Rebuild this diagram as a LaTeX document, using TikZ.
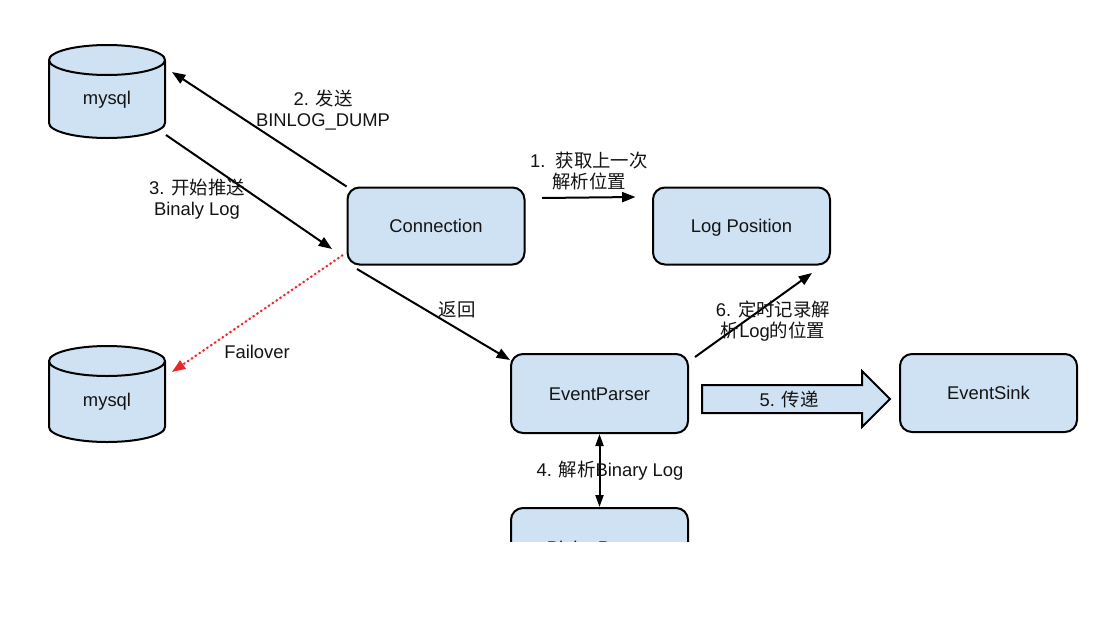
\documentclass[tikz,border=0pt]{standalone}
\usepackage{fontspec}
\setmainfont{Liberation Sans}
\newfontfamily\cjk{Noto Sans CJK SC}
\usetikzlibrary{arrows.meta,calc}
\definecolor{boxblue}{HTML}{CFE2F3}
\definecolor{failred}{HTML}{E8262B}
\definecolor{inkc}{HTML}{141414}
\begin{document}
\begin{tikzpicture}[x=0.75pt,y=-0.75pt,
  txt/.style={font=\fontsize{13.8}{16}\selectfont, text=inkc},
  box/.style={txt, draw=black, line width=1.5pt, fill=boxblue, rounded corners=9pt,
    minimum width=132.75pt, minimum height=58.5pt, inner sep=0pt,
    text height=9.9pt, text depth=0pt},
  dbshape/.style={draw=black, line width=1.5pt, fill=boxblue},
  dbnode/.style={txt, inner sep=0pt},
  lbl/.style={txt, align=center, inner sep=0pt},
  tip/.style={Triangle[length=10pt,width=7.5pt]},
  arr/.style={-{Triangle[length=10pt,width=7.5pt]}, line width=1.5pt, draw=black},
  dblarr/.style={{Triangle[length=9pt,width=6pt]}-{Triangle[length=9pt,width=6pt]}, line width=1.5pt, draw=black},
  failarr/.style={-{Triangle[length=10pt,width=7.5pt]}, line width=1.5pt, draw=failred, dotted, fill=failred}
]
\fill[white] (0,0) rectangle (1113,639);
\useasboundingbox (0,0) rectangle (1113,639);

% databases
\filldraw[dbshape] (49,60) -- (49,123) arc[start angle=180,end angle=0,x radius=58,y radius=15]
  -- (165,60) arc[start angle=0,end angle=-180,x radius=58,y radius=15] -- cycle;
\draw[line width=1.5pt] (49,60) arc[start angle=180,end angle=0,x radius=58,y radius=15];
\node[dbnode] (db1) at (107,100) {mysql};

\filldraw[dbshape] (49,361) -- (49,427) arc[start angle=180,end angle=0,x radius=58,y radius=15]
  -- (165,361) arc[start angle=0,end angle=-180,x radius=58,y radius=15] -- cycle;
\draw[line width=1.5pt] (49,361) arc[start angle=180,end angle=0,x radius=58,y radius=15];
\node[dbnode] (db2) at (107,402) {mysql};

% boxes
\node[box, minimum height=57.75pt] (conn) at (436,226) {Connection};
\node[box, minimum height=57.75pt] (logpos) at (741.5,226) {Log Position};
\node[box, minimum height=59.25pt] (ep) at (599.5,393.5) {EventParser};
\node[box] (sink) at (988.5,393) {EventSink};
\begin{scope}
  \clip (0,0) rectangle (1113,541);
  \node[box, minimum height=59.25pt] (bp) at (599.5,547.5) {BinlogParser};
\end{scope}

% fat arrow
\filldraw[draw=black, line width=1.5pt, fill=boxblue]
  (702,385) -- (862,385) -- (862,371) -- (890,399) -- (862,427) -- (862,413) -- (702,413) -- cycle;
\node[lbl] (l5) at (789,399) {5. {\cjk 传递}};

% connectors
\draw[arr] (conn.north west) -- ($(db1)+(65,-28)$);
\draw[arr] ($(db1)+(59,35)$) -- ($(conn.south west)+(-14.5,-16.5)$);
\draw[failarr] ($(conn.south west)+(-3.5,-10.5)$) -- ($(db2)+(65,-30)$);
\draw[arr] ($(conn.south west)+(10.5,3.5)$) -- ($(ep.north west)+(0,7)$);
\draw[arr] ($(conn.east)+(16.5,-28)$) -- ($(logpos.west)+(-16.5,-29)$);
\draw[arr] ($(ep.north east)+(6,4)$) -- ($(logpos.south east)+(-19,7.5)$);
\draw[dblarr] (ep.south) -- (bp.north);

% labels
\node[lbl] (l2) at (323,110) {2. {\cjk 发送}\\BINLOG\_DUMP};
\node[lbl] (l3) at (197,199.5) {3. {\cjk 开始推送}\\Binaly Log};
\node[lbl] (l1) at (589,171) {1.\ \ {\cjk 获取上一次}\\{\cjk 解析位置}};
\node[lbl] (lf) at (257,352) {Failover};
\node[lbl] (lr) at (457,310) {{\cjk 返回}};
\node[lbl] (l6) at (773,321) {6. {\cjk 定时记录解}\\{\cjk 析}Log{\cjk 的位置}};
\node[lbl] (l4) at (610,471) {4. {\cjk 解析}Binary Log};
\end{tikzpicture}
\end{document}
